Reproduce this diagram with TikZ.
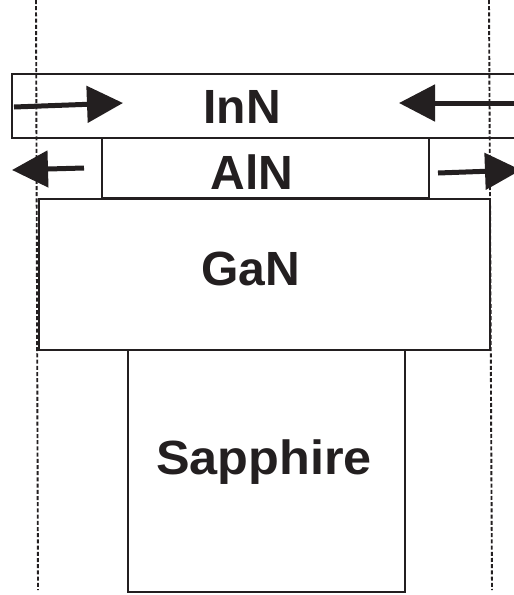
\documentclass[tikz,border=0pt]{standalone}
\usepackage{fontspec}
\setmainfont{Liberation Sans}
\usetikzlibrary{arrows.meta}
\definecolor{ink}{HTML}{231F20}
\tikzset{
  layer/.style={draw=ink, line width=2.2pt},
  guide/.style={draw=ink, line width=1.9pt, dash pattern=on 4pt off 2.2pt},
  arr/.style={draw=ink, line width=5pt, -{Triangle[length=36pt,width=36pt]}},
  lbl/.style={text=ink, font=\fontsize{48}{48}\selectfont\bfseries, inner sep=0pt, anchor=base},
}
\begin{document}
\begin{tikzpicture}[x=1pt, y=-1pt]
  \useasboundingbox (0,0) rectangle (514,595);
  \clip (0,0) rectangle (514,595);
  % layer stack
  \draw[layer] (12,74) rectangle (530,138);   % InN
  \draw[layer] (102,138) rectangle (429,198); % AlN
  \draw[layer] (39,199) rectangle (490,350);  % GaN
  \draw[layer, line width=2.6pt] (128,350) rectangle (405,592); % sapphire
  % layer names
  \node[lbl] (inn) at (242,123) {InN};
  \node[lbl] (aln) at (252,189) {AlN};
  \node[lbl] (gan) at (250.5,285) {GaN};
  \node[lbl] (sap) at (264,474) {\scalebox{1.05}[1]{Sapphire}};
  % strain arrows
  \coordinate (innLt) at (14,107);  \coordinate (innLh) at (123,103);
  \coordinate (innRt) at (520,103); \coordinate (innRh) at (399,103);
  \coordinate (alnLt) at (84,168);  \coordinate (alnLh) at (12,170);
  \coordinate (alnRt) at (438,173); \coordinate (alnRh) at (521,170);
  \draw[arr] (innLt) -- (innLh);
  \draw[arr] (innRt) -- (innRh);
  \draw[arr] (alnLt) -- (alnLh);
  \draw[arr] (alnRt) -- (alnRh);
  % substrate edge guides
  \coordinate (gLtop) at (36,0);  \coordinate (gLbot) at (38,590);
  \coordinate (gRtop) at (489,0); \coordinate (gRbot) at (492,590);
  \draw[guide] (gLtop) -- (gLbot);
  \draw[guide] (gRtop) -- (gRbot);
\end{tikzpicture}
\end{document}
